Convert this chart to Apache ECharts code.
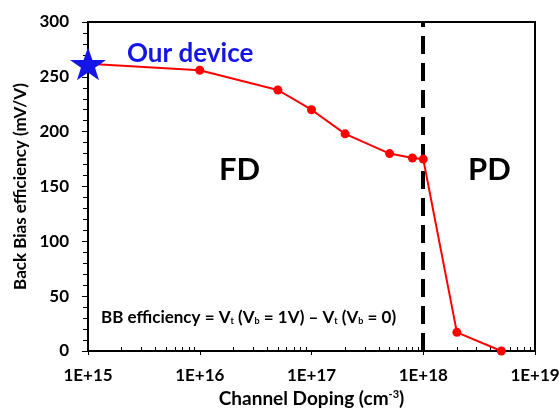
<!DOCTYPE html>
<html>
<head>
<meta charset="utf-8">
<script src="https://cdn.jsdelivr.net/npm/echarts@6/dist/echarts.min.js"></script>
<style>
  html, body { margin: 0; padding: 0; background: #fff; }
  #chart { width: 559px; height: 409px; }
</style>
</head>
<body>
<div id="chart"></div>
<script>
// Channel doping (cm^-3) and back-bias efficiency (mV/V)
const doping = [1e15, 1e16, 5e16, 1e17, 2e17, 5e17, 8e17, 1e18, 2e18, 5e18];
const efficiency = [262, 256, 238, 220, 198, 180, 176, 175, 17, 0];

// Highlighted device
const deviceDoping = [1e15];
const deviceEfficiency = [262];

// FD / PD boundary
const boundaryDoping = 1e18;

// Axis ranges and ticks
const xMin = 1e15, xMax = 1e19;
const yMin = 0, yMax = 300, yStep = 50;
const minorMultipliers = [2, 3, 4, 5, 6, 7, 8, 9];
const decades = [15, 16, 17, 18];

const minorXTicks = [];
decades.forEach(d => minorMultipliers.forEach(m => minorXTicks.push(m * Math.pow(10, d))));

const FONT = 'Lato';
const INK = '#000';
const STAR = 'path://M50,0 L61.8,35.1 L98.1,35.1 L68.8,56.7 L79.4,91 L50,70 L20.6,91 L31.2,56.7 L1.9,35.1 L38.2,35.1 Z';

const chart = echarts.init(document.getElementById('chart'), null, { renderer: 'canvas' });

chart.setOption({
  backgroundColor: '#fff',
  animation: false,
  textStyle: { fontFamily: FONT },
  grid: {
    left: 88, right: 24, top: 22, bottom: 58,
    outerBoundsMode: 'none',
    show: true, borderColor: '#000', borderWidth: 2, backgroundColor: 'transparent'
  },
  xAxis: [
    {
      type: 'log', logBase: 10, min: xMin, max: xMax, splitNumber: 4,
      position: 'bottom',
      name: 'Channel Doping (cm{sup|-3})',
      nameLocation: 'middle', nameGap: 36,
      nameTextStyle: {
        fontFamily: FONT, fontWeight: 'bold', fontSize: 19, color: INK,
        rich: { sup: { fontFamily: FONT, fontWeight: 'bold', fontSize: 11, color: INK, padding: [0, 0, 9, 0] } }
      },
      axisLine: { show: true, lineStyle: { color: '#000', width: 2 } },
      axisTick: { show: true, inside: false, length: 4, lineStyle: { color: '#000', width: 1 } },
      axisLabel: {
        margin: 16, fontFamily: FONT, fontWeight: 'bold', fontSize: 17, color: INK,
        formatter: v => '1E+' + Math.round(Math.log10(v))
      },
      splitLine: { show: false }
    },
    {
      type: 'log', logBase: 10, min: xMin, max: xMax,
      position: 'bottom',
      axisLine: { show: false },
      axisLabel: { show: false },
      axisTick: { show: true, inside: true, length: 4, customValues: minorXTicks, lineStyle: { color: '#000', width: 1 } },
      splitLine: { show: false }
    }
  ],
  yAxis: {
    type: 'value', min: yMin, max: yMax, interval: yStep,
    name: 'Back Bias efficiency (mV/V)',
    nameLocation: 'middle', nameGap: 58, nameRotate: 90,
    nameTextStyle: { fontFamily: FONT, fontWeight: 'bold', fontSize: 17, color: INK },
    axisLine: { show: true, lineStyle: { color: '#000', width: 2 } },
    axisTick: { show: true, inside: false, length: 6, lineStyle: { color: '#000', width: 1 } },
    minorTick: { show: true, splitNumber: 5, length: 5, lineStyle: { color: '#000', width: 1 } },
    axisLabel: { margin: 19, fontFamily: FONT, fontWeight: 'bold', fontSize: 17, color: INK },
    splitLine: { show: false }
  },
  series: [
    {
      type: 'line',
      data: doping.map((d, i) => [d, efficiency[i]]),
      color: '#ff0000',
      lineStyle: { color: '#ff0000', width: 2 },
      symbol: 'circle', symbolSize: 9,
      itemStyle: { color: '#ff0000' },
      z: 3,
      markLine: {
        silent: true, symbol: ['none', 'none'],
        label: { show: false },
        lineStyle: { color: '#000', width: 4, type: [18, 9] },
        data: [{ xAxis: boundaryDoping }],
        z: 2
      }
    },
    {
      type: 'scatter',
      data: deviceDoping.map((d, i) => [d, deviceEfficiency[i]]),
      symbol: STAR, symbolSize: [36, 33],
      itemStyle: { color: '#1414e6', opacity: 1 },
      z: 5
    }
  ],
  graphic: [
    {
      type: 'text', left: 127, top: 41,
      style: { text: 'Our device', fontFamily: FONT, fontWeight: 'bold', fontSize: 26, fill: '#1414e6' }
    },
    {
      type: 'text', left: 219, top: 154,
      style: { text: 'FD', fontFamily: FONT, fontWeight: 'bold', fontSize: 31, fill: INK }
    },
    {
      type: 'text', left: 468, top: 154,
      style: { text: 'PD', fontFamily: FONT, fontWeight: 'bold', fontSize: 31, fill: INK }
    },
    {
      type: 'text', left: 101, top: 309,
      style: {
        text: 'BB efficiency = V{sub|t} (V{sub|b} = 1V) \u2013 V{sub|t} (V{sub|b} = 0)',
        fontFamily: FONT, fontWeight: 'bold', fontSize: 17, fill: INK,
        rich: {
          sub: { fontFamily: FONT, fontWeight: 'bold', fontSize: 9, fill: INK, padding: [7, 0, 0, 0] }
        }
      }
    }
  ]
});
</script>
</body>
</html>
